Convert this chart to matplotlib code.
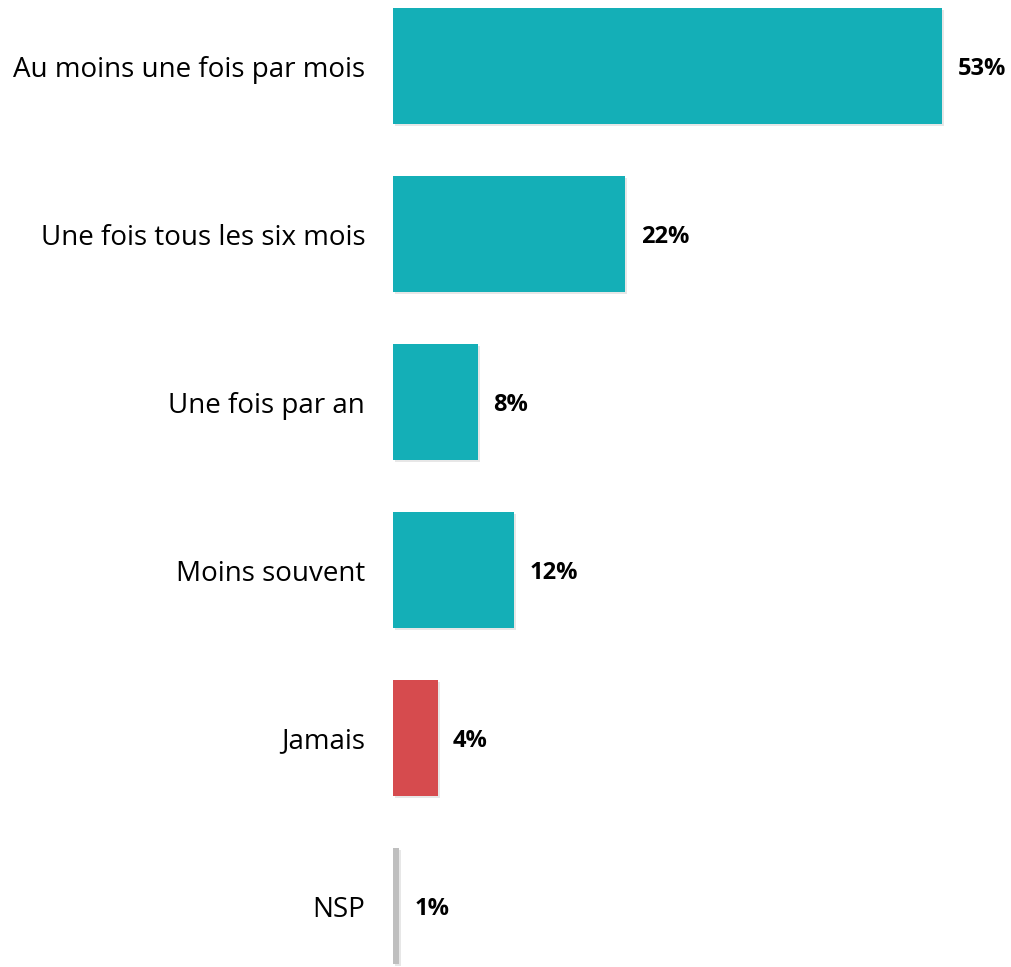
import matplotlib.pyplot as plt
import matplotlib.patheffects as pe

# Données
categories = ['Au moins une fois par mois', 'Une fois tous les six mois',
              'Une fois par an', 'Moins souvent', 'Jamais', 'NSP']
valeurs = [53, 22.4, 8.2, 11.7, 4.3, 0.6]
etiquettes = ['53%', '22%', '8%', '12%', '4%', '1%']
couleurs = ['#14AFB7', '#14AFB7', '#14AFB7', '#14AFB7', '#D64B4E', '#BFBFBF']

plt.rcParams['font.family'] = ['Open Sans', 'DejaVu Sans']

fig = plt.figure(figsize=(10.12, 9.67), dpi=100)
ax = fig.add_axes([393 / 1012, 0, 1 - 393 / 1012, 1])

pos = list(range(len(categories)))
barres = ax.barh(pos, valeurs, height=0.69, color=couleurs)
for b in barres:
    b.set_path_effects([pe.SimplePatchShadow(offset=(1.5, -1.5), shadow_rgbFace='#888888', alpha=0.2),
                        pe.Normal()])

ax.set_xlim(0, 619 / 10.36)
ax.set_ylim(5.363, -0.393)

for i, (v, t) in enumerate(zip(valeurs, etiquettes)):
    ax.text(v + 1.5, i + 0.02, t, va='center', ha='left', fontsize=17, fontweight='bold', color='black')

ax.set_yticks(pos)
ax.set_yticklabels(categories, fontsize=20)
ax.tick_params(axis='y', length=0, pad=20)
ax.set_xticks([])
for s in ax.spines.values():
    s.set_visible(False)

fig.savefig('out.png', dpi=100)
